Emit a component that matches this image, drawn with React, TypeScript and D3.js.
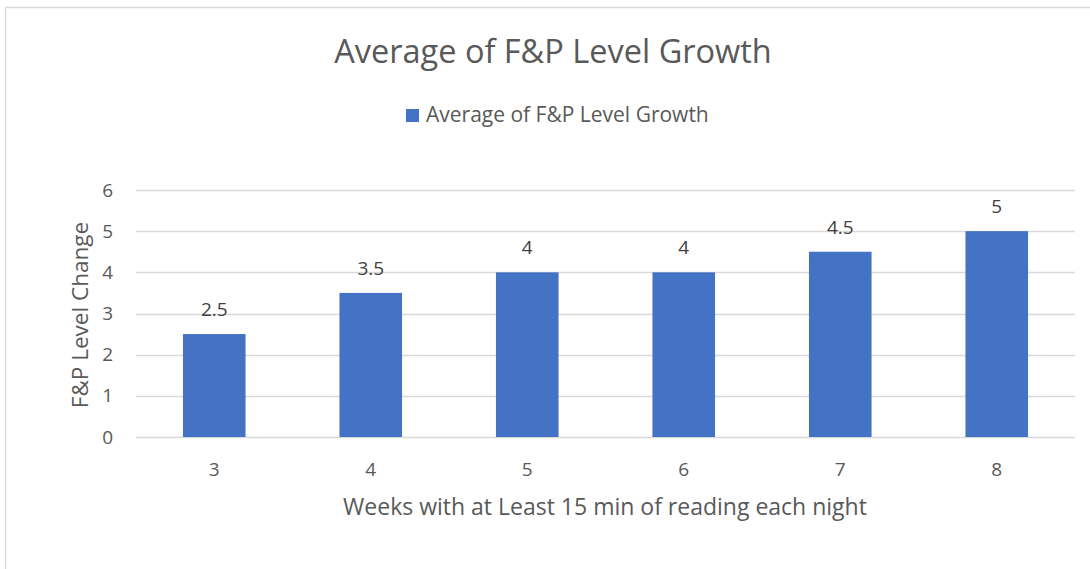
import { useEffect, useRef } from "react";
import * as d3 from "d3";

const weeks = ["3", "4", "5", "6", "7", "8"];
const growth = [2.5, 3.5, 4, 4, 4.5, 5];
const yTicks = [0, 1, 2, 3, 4, 5, 6];

const title = "Average of F&P Level Growth";
const seriesName = "Average of F&P Level Growth";
const xTitle = "Weeks with at Least 15 min of reading each night";
const yTitle = "F&P Level Change";

const App = () => {
  const svgRef = useRef<SVGSVGElement>(null);

  useEffect(() => {
    document.body.style.margin = "0";
    const width = 1090;
    const height = 569;
    const margin = { top: 190, right: 15, bottom: 132, left: 136 };
    const font = "'Open Sans', sans-serif";
    const textColor = "#595959";

    const svg = d3.select(svgRef.current);
    svg.selectAll("*").remove();
    svg.attr("width", width).attr("height", height).style("display", "block");

    svg.append("rect").attr("width", width).attr("height", height).attr("fill", "#fff");
    // chart frame
    svg.append("line").attr("x1", 5.5).attr("x2", width).attr("y1", 7.5).attr("y2", 7.5)
      .attr("stroke", "#d9d9d9").attr("stroke-width", 1.5);
    svg.append("line").attr("x1", 5.5).attr("x2", 5.5).attr("y1", 7.5).attr("y2", height)
      .attr("stroke", "#d9d9d9").attr("stroke-width", 1.5);

    const x = d3.scaleBand()
      .domain(weeks)
      .range([margin.left, width - margin.right])
      .paddingInner(0.6)
      .paddingOuter(0.3);

    const y = d3.scaleLinear()
      .domain([0, 6])
      .range([height - margin.bottom, margin.top]);

    // gridlines
    svg.append("g")
      .selectAll("line")
      .data(yTicks)
      .join("line")
      .attr("x1", margin.left)
      .attr("x2", width - margin.right)
      .attr("y1", (d) => Math.round(y(d)) + 0.5)
      .attr("y2", (d) => Math.round(y(d)) + 0.5)
      .attr("stroke", "#d9d9d9")
      .attr("stroke-width", 1.3);

    // y tick labels
    svg.append("g")
      .selectAll("text")
      .data(yTicks)
      .join("text")
      .attr("x", 113)
      .attr("y", (d) => y(d))
      .attr("dy", "0.35em")
      .attr("text-anchor", "end")
      .attr("font-family", font)
      .attr("font-size", 19)
      .attr("fill", textColor)
      .text((d) => d);

    // bars
    svg.append("g")
      .selectAll("rect")
      .data(growth)
      .join("rect")
      .attr("x", (_, i) => x(weeks[i])!)
      .attr("y", (d) => y(d))
      .attr("width", x.bandwidth())
      .attr("height", (d) => y(0) - y(d))
      .attr("fill", "#4472c4");

    // data labels
    svg.append("g")
      .selectAll("text")
      .data(growth)
      .join("text")
      .attr("x", (_, i) => x(weeks[i])! + x.bandwidth() / 2)
      .attr("y", (d) => y(d) - 18)
      .attr("text-anchor", "middle")
      .attr("font-family", font)
      .attr("font-size", 19)
      .attr("fill", "#404040")
      .text((d) => d);

    // x tick labels
    svg.append("g")
      .selectAll("text")
      .data(weeks)
      .join("text")
      .attr("x", (d) => x(d)! + x.bandwidth() / 2)
      .attr("y", 469)
      .attr("dy", "0.35em")
      .attr("text-anchor", "middle")
      .attr("font-family", font)
      .attr("font-size", 19)
      .attr("fill", textColor)
      .text((d) => d);

    // axis titles
    svg.append("text")
      .attr("x", 605)
      .attr("y", 507)
      .attr("dy", "0.35em")
      .attr("text-anchor", "middle")
      .attr("font-family", font)
      .attr("font-size", 23)
      .attr("fill", textColor)
      .text(xTitle);

    svg.append("text")
      .attr("transform", `translate(80, ${(220 + 410) / 2}) rotate(-90)`)
      .attr("dy", "0.35em")
      .attr("text-anchor", "middle")
      .attr("font-family", font)
      .attr("font-size", 22.5)
      .attr("fill", textColor)
      .text(yTitle);

    // title
    svg.append("text")
      .attr("x", 553)
      .attr("y", 52)
      .attr("dy", "0.35em")
      .attr("text-anchor", "middle")
      .attr("font-family", font)
      .attr("font-size", 32.5)
      .attr("fill", textColor)
      .text(title);

    // legend
    svg.append("rect")
      .attr("x", 406).attr("y", 109).attr("width", 13).attr("height", 13)
      .attr("fill", "#4472c4");
    svg.append("text")
      .attr("x", 426)
      .attr("y", 115)
      .attr("dy", "0.35em")
      .attr("font-family", font)
      .attr("font-size", 21)
      .attr("fill", textColor)
      .text(seriesName);
  }, []);

  return <svg ref={svgRef} />;
};

export default App;
